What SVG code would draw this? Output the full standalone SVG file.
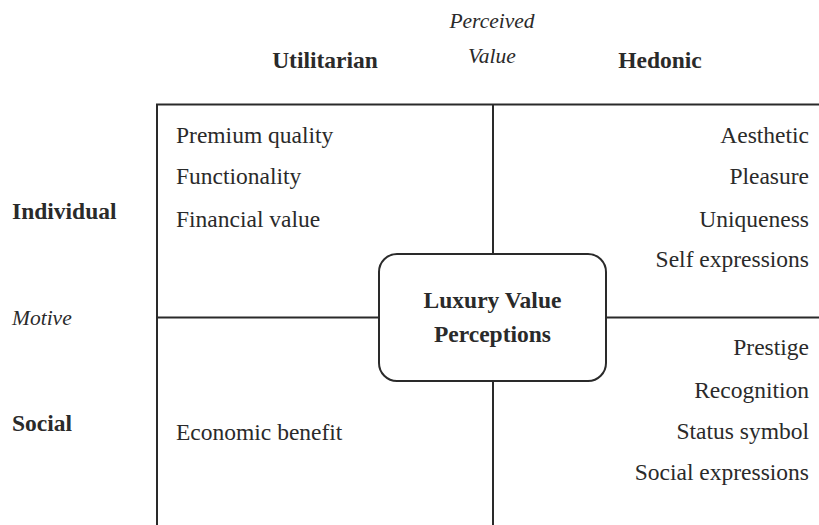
<svg xmlns="http://www.w3.org/2000/svg" width="819" height="525" viewBox="0 0 819 525">
  <style>
    text { font-family: "Liberation Serif", "Times New Roman", serif; fill: #2a2a2a; }
    .item { font-size: 23.5px; }
    .end { text-anchor: end; }
    .head { font-size: 23.5px; font-weight: bold; }
    .axis { font-size: 21.5px; font-style: italic; }
    .mid { text-anchor: middle; }
    .rule { stroke: #2a2a2a; stroke-width: 2; fill: none; }
  </style>
  <rect width="819" height="525" fill="#ffffff"/>

  <!-- quadrant frame and dividing axes -->
  <g id="connectors">
    <path class="rule" d="M157,525 V104.5 H819"/>
    <path class="rule" d="M493,104.5 V254"/>
    <path class="rule" d="M493,381 V525"/>
    <path class="rule" d="M157,317.5 H379"/>
    <path class="rule" d="M606,317.5 H819"/>
  </g>

  <!-- axis headings -->
  <g id="axis-value">
    <text class="axis mid" x="492" y="28">Perceived</text>
    <text class="axis mid" x="492" y="63">Value</text>
  </g>
  <g id="col-utilitarian"><text class="head mid" x="325" y="68">Utilitarian</text></g>
  <g id="col-hedonic"><text class="head mid" x="660" y="68">Hedonic</text></g>
  <g id="row-individual"><text class="head" x="12" y="219">Individual</text></g>
  <g id="axis-motive"><text class="axis" x="12" y="325">Motive</text></g>
  <g id="row-social"><text class="head" x="12" y="431">Social</text></g>

  <!-- quadrant contents -->
  <g id="q-individual-utilitarian">
    <text class="item" x="176" y="143">Premium quality</text>
    <text class="item" x="176" y="184">Functionality</text>
    <text class="item" x="176" y="227">Financial value</text>
  </g>
  <g id="q-individual-hedonic">
    <text class="item end" x="809" y="143">Aesthetic</text>
    <text class="item end" x="809" y="184">Pleasure</text>
    <text class="item end" x="809" y="227">Uniqueness</text>
    <text class="item end" x="809" y="267">Self expressions</text>
  </g>
  <g id="q-social-utilitarian">
    <text class="item" x="176" y="440">Economic benefit</text>
  </g>
  <g id="q-social-hedonic">
    <text class="item end" x="809" y="355">Prestige</text>
    <text class="item end" x="809" y="398">Recognition</text>
    <text class="item end" x="809" y="439">Status symbol</text>
    <text class="item end" x="809" y="480">Social expressions</text>
  </g>

  <!-- central node -->
  <g id="luxury-value-perceptions">
    <rect class="rule" x="379" y="254" width="227" height="127" rx="18" ry="18" fill="#ffffff"/>
    <text class="head mid" x="492.5" y="308">Luxury Value</text>
    <text class="head mid" x="492.5" y="342">Perceptions</text>
  </g>
</svg>
